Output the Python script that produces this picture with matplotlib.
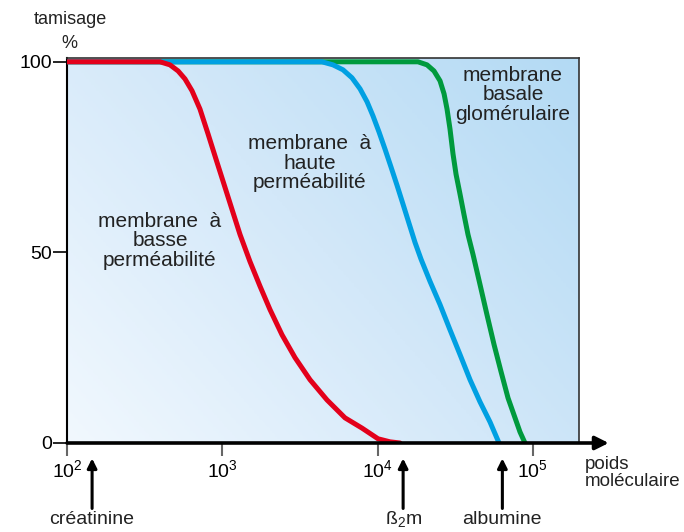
import numpy as np
import matplotlib
matplotlib.use("Agg")
import matplotlib.pyplot as plt
from matplotlib.colors import LinearSegmentedColormap

plt.rcParams['font.family'] = ['Liberation Sans', 'DejaVu Sans']
plt.rcParams['mathtext.fontset'] = 'custom'
plt.rcParams['mathtext.rm'] = 'Liberation Sans'
plt.rcParams['mathtext.it'] = 'Liberation Sans'
plt.rcParams['mathtext.default'] = 'regular'

# sieving curves: molecular weight (Da) vs sieving coefficient (%)
basse_mw = [100, 342, 397, 460, 519, 575, 638, 718, 809, 910, 1025, 1154, 1300, 1507,
            1750, 2028, 2422, 2938, 3670, 4721, 6166, 7940, 10070, 12030, 13930]
basse_pct = [100, 100, 100, 99.2, 97.6, 95.5, 92.4, 87.6, 81.1, 74.5, 67.9, 61.3, 54.7, 47.6,
             41.1, 35.0, 28.4, 22.4, 16.6, 11.3, 6.6, 3.9, 1.1, 0.3, 0]

haute_mw = [100, 3670, 4385, 5160, 5985, 6840, 7710, 8555, 9340, 10210, 11160, 12200,
            13340, 14590, 15940, 17420, 19050, 21750, 25240, 29250, 33940, 39370,
            45640, 52970, 60520]
haute_pct = [100, 100, 100, 99.2, 97.9, 95.8, 92.9, 89.5, 85.8, 81.6, 77.1, 72.4,
             67.6, 62.6, 57.6, 52.6, 48.2, 42.4, 36.3, 29.7, 23.2, 16.6,
             10.8, 5.5, 0]

gbm_mw = [100, 15000, 18200, 20810, 23070, 25240, 26790, 28000, 29250, 30600, 32000,
          33940, 35970, 38200, 41130, 45640, 50590, 56230, 62370, 69180, 76740,
          82600, 88950]
gbm_pct = [100, 100, 100, 99.2, 97.6, 95.0, 91.6, 87.6, 82.4, 75.8, 70.5,
           65.3, 60.0, 54.7, 49.5, 41.6, 33.7, 25.8, 18.7, 11.8, 6.6,
           2.9, 0]

markers_mw = [145, 14600, 63600]
markers_lbl = ['créatinine', r'ß$_{2}$m', 'albumine']

xticks = [1e2, 1e3, 1e4, 1e5]
xtick_lbls = [r'$10^{2}$', r'$10^{3}$', r'$10^{4}$', r'$10^{5}$']
yticks = [0, 50, 100]

fig = plt.figure(figsize=(6.84, 5.32), dpi=100)
ax = fig.add_axes([0.098, 0.1673, 0.7485, 0.7237])

# blue diagonal gradient behind the curves
cmap = LinearSegmentedColormap.from_list('bg', ['#f1f8fe', '#d3e8f9', '#b3daf4'])
gx, gy = np.meshgrid(np.linspace(0, 1, 200), np.linspace(0, 1, 200))
ax.imshow(gx * 0.6 + gy * 0.4, cmap=cmap, extent=[0, 1, 0, 1], origin='lower',
          transform=ax.transAxes, aspect='auto', zorder=0)

lw = 3.6
ax.plot(gbm_mw, gbm_pct, color='#009a3d', lw=lw, solid_capstyle='round',
        solid_joinstyle='round', zorder=2)
ax.plot(haute_mw, haute_pct, color='#00a0e2', lw=lw, solid_capstyle='round',
        solid_joinstyle='round', zorder=3)
ax.plot(basse_mw, basse_pct, color='#e3001b', lw=lw, solid_capstyle='round',
        solid_joinstyle='round', zorder=4)

ax.set_xscale('log')
ax.set_xlim(1e2, 10 ** 5.297)
ax.set_ylim(0, 101)
ax.set_xticks(xticks)
ax.set_xticklabels(xtick_lbls)
ax.minorticks_off()
ax.set_yticks(yticks)
ax.tick_params(axis='y', length=10, width=1.2, color='black', labelsize=14, pad=1)
ax.tick_params(axis='x', length=9, width=1.5, color='#666666', labelsize=14, pad=3)

for s in ['top', 'right']:
    ax.spines[s].set_color('#333333')
    ax.spines[s].set_linewidth(1.2)
ax.spines['left'].set_linewidth(1.5)
ax.spines['bottom'].set_visible(False)

# x axis drawn as an arrow running past the frame
ax.annotate('', xy=(1.058, 0), xytext=(0, 0), xycoords='axes fraction',
            arrowprops=dict(arrowstyle='-|>', lw=2.6, color='black', mutation_scale=20,
                            shrinkA=0, shrinkB=0), annotation_clip=False, zorder=5)

txt = dict(fontsize=15, color='#222222', ha='center', va='center', linespacing=1.02)
fig.text(310 / 684, 1 - 163 / 532, 'membrane  à\nhaute\nperméabilité', **txt)
fig.text(160 / 684, 1 - 241 / 532, 'membrane  à\nbasse\nperméabilité', **txt)
fig.text(513 / 684, 1 - 95 / 532, 'membrane\nbasale\nglomérulaire', **txt)

fig.text(70 / 684, 1 - 19 / 532, 'tamisage', fontsize=13, color='#222222', ha='center', va='center')
fig.text(69 / 684, 1 - 44 / 532, '%', fontsize=13, color='#222222', ha='center', va='center')
fig.text(585 / 684, 1 - 473 / 532, 'poids\nmoléculaire', fontsize=13.5, color='#222222',
         ha='left', va='center', linespacing=1.05)

# arrows pointing to marker molecules
for mw, lbl in zip(markers_mw, markers_lbl):
    ax.annotate('', xy=(mw, -0.04), xytext=(mw, -0.17),
                xycoords=('data', 'axes fraction'),
                arrowprops=dict(arrowstyle='-|>', lw=2.2, color='black', mutation_scale=14,
                                shrinkA=0, shrinkB=0), annotation_clip=False)
    ax.text(mw, -0.198, lbl, transform=ax.get_xaxis_transform(), fontsize=14,
            color='#222222', ha='center', va='center')

fig.savefig('out.png', dpi=100)
